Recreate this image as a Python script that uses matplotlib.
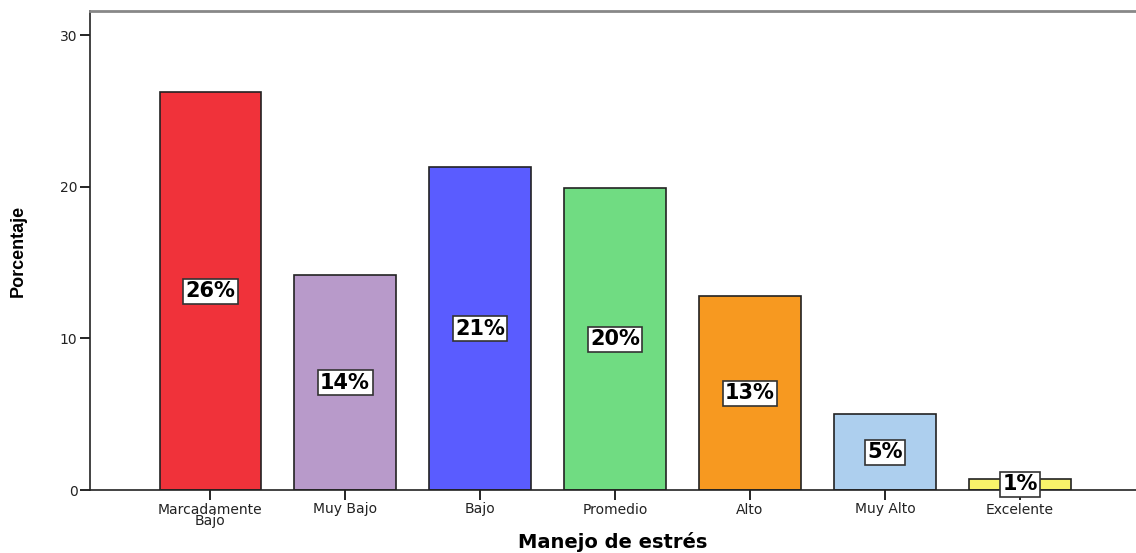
import matplotlib
matplotlib.use("Agg")
import matplotlib.pyplot as plt

categories = ["Marcadamente\nBajo", "Muy Bajo", "Bajo", "Promedio", "Alto", "Muy Alto", "Excelente"]
percentages = [26.25, 14.17, 21.3, 19.9, 12.79, 5.0, 0.73]
value_labels = ["26%", "14%", "21%", "20%", "13%", "5%", "1%"]
bar_colors = ["#F0323A", "#B89ACA", "#5A5CFF", "#70DC82", "#F79920", "#ADCFEE", "#F9F36A"]

fig = plt.figure(figsize=(11.36, 5.53), dpi=100)
ax = fig.add_axes([90 / 1136, 63 / 553, 1 - 90 / 1136, (490 - 11) / 553])

positions = list(range(len(categories)))
ax.bar(positions, percentages, width=0.75, color=bar_colors, edgecolor="#222222", linewidth=1.2, zorder=2)

# percentage boxes sit halfway up each bar
for x, val, lbl in zip(positions, percentages, value_labels):
    ax.text(x, val / 2, lbl, ha="center", va="center", fontsize=15, fontweight="bold",
            color="black", zorder=3,
            bbox=dict(boxstyle="square,pad=0.12", facecolor="white", edgecolor="#333333", linewidth=1.2))

ax.set_xlim(-0.89, 6.86)
ax.set_ylim(0, 31.6)
ax.set_yticks([0, 10, 20, 30])
ax.set_xticks(positions)
ax.set_xticklabels(categories, fontsize=10, color="#222222", linespacing=0.8)
ax.tick_params(axis="y", labelsize=10, labelcolor="#222222", length=7, width=1.2, pad=2)
ax.tick_params(axis="x", length=7, width=1.2, pad=2)

ax.spines["right"].set_visible(False)
ax.spines["top"].set_color("#888888")
ax.spines["top"].set_linewidth(2)
for side in ("left", "bottom"):
    ax.spines[side].set_color("#222222")
    ax.spines[side].set_linewidth(1.2)

ax.set_ylabel("Porcentaje", fontsize=13, fontweight="bold", family="Liberation Sans", labelpad=24)
ax.set_xlabel("Manejo de estrés", fontsize=14, fontweight="bold", labelpad=3)

fig.savefig("out.png", dpi=100)
